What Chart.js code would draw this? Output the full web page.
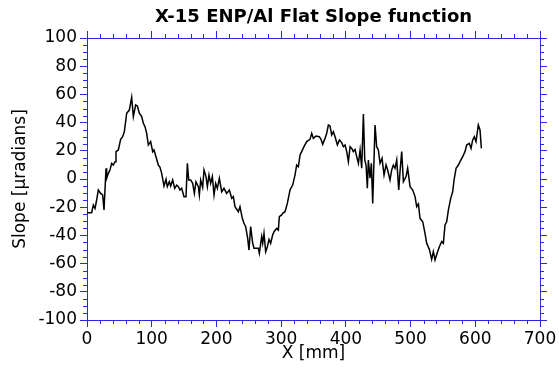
<!DOCTYPE html>
<html>
<head>
<meta charset="utf-8">
<script src="https://cdn.jsdelivr.net/npm/chart.js@4/dist/chart.umd.min.js"></script>
<style>
  html, body { margin: 0; padding: 0; background: #fff; }
  #wrap { width: 559px; height: 370px; }
</style>
</head>
<body>
<div id="wrap"><canvas id="slope" width="559" height="370"></canvas></div>
<script>
// Measured slope profile along the flat: position [mm] and slope [µrad]
const positionMm = [
  0, 7.2, 9.8, 12.4, 14.9, 17.5, 21.1, 24.2, 26.3, 29.4, 30.4, 33.0, 35.5, 38.1, 40.7, 43.3, 44.8, 48.4,
  52.0, 55.1, 57.7, 61.3, 65.4, 69.0, 71.6, 75.2, 77.8, 80.9, 84.5, 87.1, 89.6, 92.2, 94.8, 98.4,
  101.5, 103.5, 106.6, 110.2, 112.8, 115.4, 119.0, 122.1, 124.1, 127.2, 129.3, 132.4, 135.5, 138.6,
  141.1, 143.7, 146.3, 149.9, 153.0, 155.1, 157.1, 160.2, 163.3, 165.9, 168.4, 172.1, 173.6, 175.7,
  178.7, 180.8, 183.9, 186.0, 188.5, 191.1, 193.7, 196.3, 198.8, 201.4, 204.5, 208.1, 211.7, 215.8,
  220.0, 223.6, 226.1, 228.7, 233.9, 236.4, 240.0, 242.6, 245.2, 248.3, 250.3, 252.9, 256.0, 258.1,
  261.2, 264.8, 266.3, 269.9, 271.5, 273.5, 276.1, 278.7, 281.3, 283.8, 286.9, 289.0, 293.1, 295.7,
  297.2, 300.8, 302.4, 306.0, 309.6, 313.7, 317.8, 321.4, 324.0, 326.6, 329.2, 331.7, 335.3, 339.5,
  344.6, 347.2, 349.8, 353.9, 359.0, 361.6, 364.2, 367.8, 370.4, 373.0, 375.5, 378.1, 380.7, 383.3,
  386.9, 390.0, 393.6, 396.2, 398.8, 401.3, 403.9, 406.5, 409.1, 411.6, 414.2, 416.8, 419.4, 422.0,
  424.5, 427.1, 429.2, 431.2, 433.2, 434.8, 437.3, 439.4, 441.5, 445.1, 447.6, 450.2, 452.8, 455.9,
  459.0, 462.1, 464.6, 468.2, 470.8, 473.4, 476.0, 478.6, 481.7, 483.7, 486.3, 488.9, 493.0, 495.5,
  499.2, 503.3, 506.9, 509.5, 512.1, 514.6, 518.8, 522.3, 524.9, 529.0, 532.6, 535.2, 537.8, 541.4,
  544.5, 548.1, 550.7, 553.2, 555.8, 558.4, 562.0, 565.1, 567.2, 570.3, 573.9, 576.4, 580.5, 584.1,
  586.7, 590.8, 593.4, 596.0, 598.5, 601.1, 604.7, 607.3, 609.4
];
const slopeUrad = [
  -23.9, -23.9, -18.4, -20.8, -14.9, -7.8, -10.2, -11.3, -22.0, 7.6, 0.5, 4.0, 6.4, 11.1, 9.9, 12.3, 19.4, 20.6,
  28.1, 30.0, 33.6, 46.6, 48.9, 57.9, 44.2, 52.5, 51.8, 46.6, 44.2, 39.5, 37.1, 32.4, 24.1, 26.5,
  19.4, 20.6, 15.8, 9.9, 8.3, 4.0, -5.0, -0.2, -5.4, -1.9, -5.0, -0.7, -6.6, -4.3,
  -5.4, -7.8, -6.6, -12.5, -12.5, 11.1, -0.7, -0.7, -3.1, -10.2, -1.9, -5.4, -11.3, -0.7,
  -5.9, 6.4, 1.7, -5.4, 2.8, -3.1, 1.7, -11.3, -3.1, -6.6, 0.5, -9.0, -6.6, -10.2,
  -7.8, -13.7, -12.5, -19.6, -23.2, -19.6, -27.9, -31.4, -33.8, -42.1, -50.4, -33.8, -45.6, -49.2,
  -49.2, -49.2, -52.7, -40.9, -45.6, -38.5, -51.5, -48.0, -42.8, -45.6, -39.7, -37.4, -35.0, -36.2,
  -26.7, -25.5, -24.3, -23.2, -17.3, -7.8, -4.3, 2.8, 9.9, 8.7, 17.0, 19.4, 22.9, 26.5,
  28.1, 32.4, 28.8, 30.5, 30.0, 28.1, 24.6, 28.8, 32.4, 38.3, 37.6, 31.2, 33.6, 30.0,
  24.1, 27.7, 25.8, 22.9, 24.1, 19.4, 12.3, 22.9, 21.7, 19.4, 21.0, 15.8, 11.1, 20.6,
  7.6, 46.1, 13.5, 9.9, -6.6, 13.5, 0.5, 11.1, -17.3, 38.3, 22.9, 20.6, 11.1, 14.7,
  2.8, 9.9, 6.4, -0.7, 6.4, 9.9, 7.6, 13.5, -7.8, 5.2, 19.4, -1.9, 1.7, 7.6,
  -5.4, -7.8, -12.5, -19.6, -17.7, -27.9, -30.3, -38.5, -45.6, -49.9, -57.0, -51.5, -57.4, -52.2,
  -48.0, -44.4, -45.6, -32.6, -30.3, -22.0, -13.7, -9.0, -0.7, 7.6, 9.9, 12.3, 15.8, 19.4,
  24.1, 25.3, 21.7, 27.7, 30.0, 26.5, 38.3, 34.8, 21.7
];

// Axis ranges and tick spacing
const xRange = [0, 700];
const yRange = [-100, 100];
const xMajorStep = 100, xMinorStep = 20;
const yMajorStep = 20, yMinorStep = 5;

const chartTitle = 'X-15 ENP/Al Flat Slope function';
const xTitle = 'X [mm]';
const yTitle = 'Slope [\u00b5radians]';

const AXIS_BLUE = '#2a2ae6';
const FONT = 'DejaVu Sans';

Chart.defaults.color = '#000';

// Short minor tick marks on all four sides, placed through each scale
const minorTicks = {
  id: 'minorTicks',
  afterDraw(chart) {
    const ctx = chart.ctx;
    const len = 4;
    const specs = [
      { id: 'x', step: xMinorStep, major: xMajorStep },
      { id: 'x2', step: xMinorStep, major: xMajorStep },
      { id: 'y', step: yMinorStep, major: yMajorStep },
      { id: 'y2', step: yMinorStep, major: yMajorStep }
    ];
    ctx.save();
    ctx.strokeStyle = AXIS_BLUE;
    ctx.lineWidth = 1;
    for (const sp of specs) {
      const s = chart.scales[sp.id];
      const n = Math.round((s.max - s.min) / sp.step);
      const ratio = Math.round(sp.major / sp.step);
      ctx.beginPath();
      for (let i = 0; i <= n; i++) {
        if (i % ratio === 0) continue;
        const v = s.min + i * sp.step;
        const p = Math.round(s.getPixelForValue(v)) + 0.5;
        if (s.position === 'bottom') { ctx.moveTo(p, s.top); ctx.lineTo(p, s.top + len); }
        else if (s.position === 'top') { ctx.moveTo(p, s.bottom); ctx.lineTo(p, s.bottom - len); }
        else if (s.position === 'left') { ctx.moveTo(s.right, p); ctx.lineTo(s.right - len, p); }
        else { ctx.moveTo(s.left, p); ctx.lineTo(s.left + len, p); }
      }
      ctx.stroke();
    }
    ctx.restore();
  }
};

const gridOpts = {
  display: true,
  drawOnChartArea: false,
  drawTicks: true,
  tickLength: 7,
  tickColor: AXIS_BLUE,
  tickWidth: 1,
  color: AXIS_BLUE
};
const borderOpts = { display: true, color: AXIS_BLUE, width: 1 };
const tickFont = { family: FONT, size: 17 };

new Chart(document.getElementById('slope'), {
  type: 'line',
  data: {
    datasets: [{
      data: positionMm.map((x, i) => ({ x, y: slopeUrad[i] })),
      borderColor: '#000',
      borderWidth: 1.5,
      pointRadius: 0,
      tension: 0,
      fill: false
    }]
  },
  options: {
    responsive: false,
    devicePixelRatio: 1,
    animation: false,
    layout: { padding: 0 },
    plugins: { legend: { display: false }, title: { display: false }, tooltip: { enabled: false } },
    scales: {
      x: {
        type: 'linear', position: 'bottom', min: xRange[0], max: xRange[1],
        ticks: { stepSize: xMajorStep, font: tickFont, padding: 2, maxRotation: 0, autoSkip: false },
        grid: gridOpts, border: borderOpts,
        title: { display: true, text: xTitle, font: { family: FONT, size: 17, lineHeight: 1 }, padding: { top: 0, bottom: 8 } },
        afterFit: s => { s.height = 50; }
      },
      x2: {
        type: 'linear', position: 'top', min: xRange[0], max: xRange[1],
        ticks: { stepSize: xMajorStep, display: false },
        grid: gridOpts, border: borderOpts,
        title: { display: true, text: chartTitle, font: { family: FONT, size: 18, weight: 'bold', lineHeight: 1 }, padding: { top: 8, bottom: 0 } },
        afterFit: s => { s.height = 38; }
      },
      y: {
        type: 'linear', position: 'left', min: yRange[0], max: yRange[1],
        ticks: { stepSize: yMajorStep, font: tickFont, padding: 3, autoSkip: false },
        grid: gridOpts, border: borderOpts,
        title: { display: true, text: yTitle, font: { family: FONT, size: 17, lineHeight: 1 }, padding: { top: 12, bottom: 0 } },
        afterFit: s => { s.width = 87; }
      },
      y2: {
        type: 'linear', position: 'right', min: yRange[0], max: yRange[1],
        ticks: { stepSize: yMajorStep, display: false },
        grid: gridOpts, border: borderOpts,
        afterFit: s => { s.width = 19; }
      }
    }
  },
  plugins: [minorTicks]
});
</script>
</body>
</html>
